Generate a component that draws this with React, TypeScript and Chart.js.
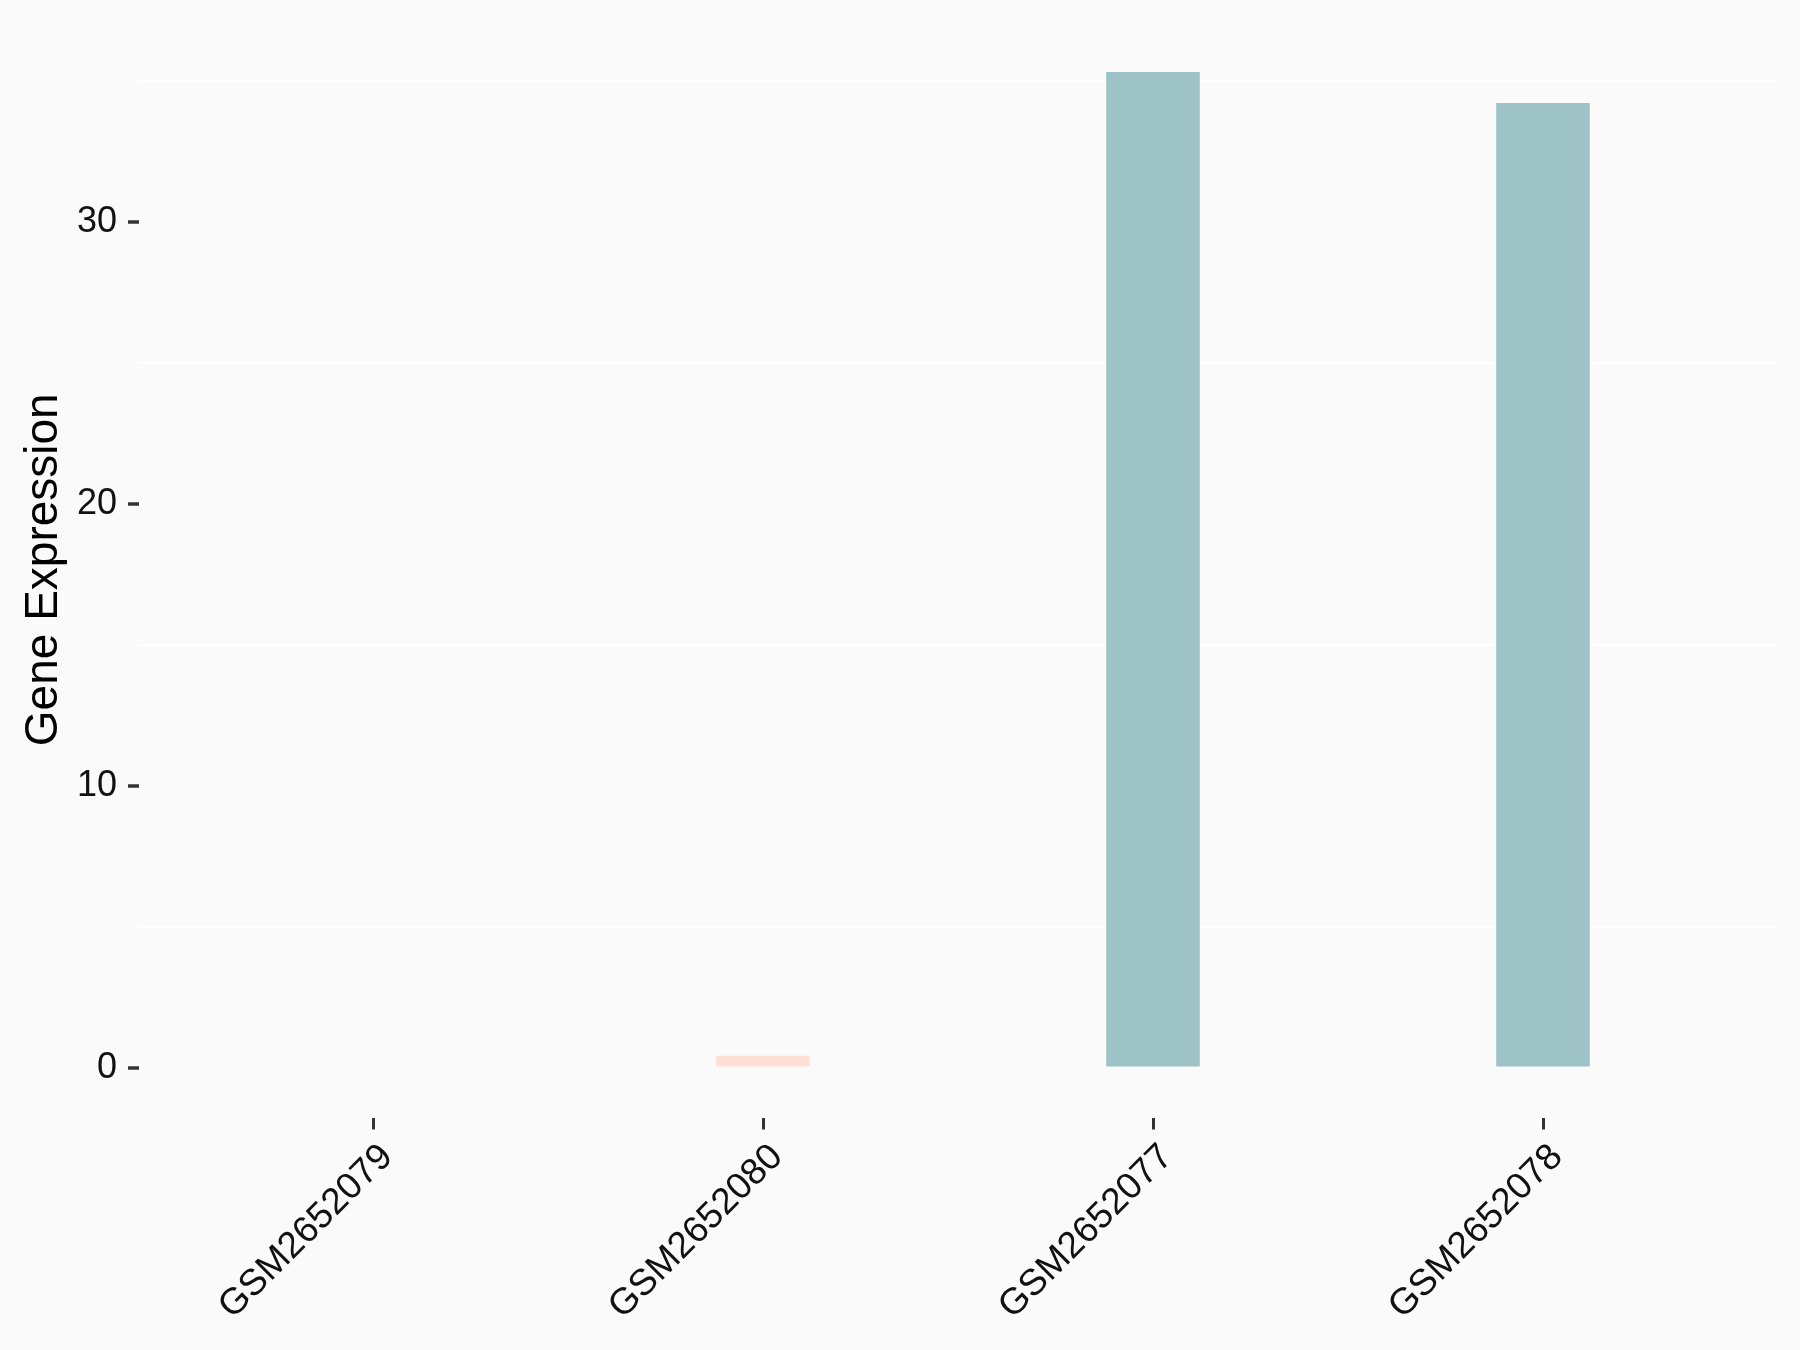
import React, { useEffect, useRef } from "react";
import { Chart, registerables } from "chart.js";

Chart.register(...registerables);

const categories = ["GSM2652079", "GSM2652080", "GSM2652077", "GSM2652078"];
const values = [0, 0.42, 35.32, 34.22];
const barColors = ["#FEE0D6", "#FEE0D6", "#9DC3C7", "#9DC3C7"];
const yTickValues = [0, 5, 10, 15, 20, 25, 30, 35];
const yAxisTitle = "Gene Expression";

const FONT = "'Liberation Sans', Arial, sans-serif";

export default function App() {
  const ref = useRef<HTMLCanvasElement | null>(null);

  useEffect(() => {
    document.body.style.margin = "0";
    document.body.style.background = "#FAFAFA";
    const bgPlugin = {
      id: "bg",
      beforeDraw(chart: any) {
        const { ctx, width, height } = chart;
        ctx.save();
        ctx.fillStyle = "#FAFAFA";
        ctx.fillRect(0, 0, width, height);
        ctx.restore();
      },
    };
    const chart = new Chart(ref.current as HTMLCanvasElement, {
      type: "bar",
      data: {
        datasets: [
          {
            data: values.map((v, i) => ({ x: i + 1, y: v })),
            backgroundColor: barColors,
            borderWidth: 0,
            barPercentage: 0.24,
            categoryPercentage: 1,
          },
        ],
      },
      options: {
        animation: false,
        responsive: false,
        maintainAspectRatio: false,
        layout: { padding: { top: 22, right: 23, left: 0, bottom: 0 } },
        plugins: { legend: { display: false }, tooltip: { enabled: false } },
        scales: {
          x: {
            type: "linear",
            min: 0.4,
            max: 4.6,
            offset: false,
            afterBuildTicks: (scale: any) => {
              scale.ticks = categories.map((_, i) => ({ value: i + 1 }));
            },
            afterFit: (scale: any) => {
              scale.height = 232.5;
              scale.paddingLeft = 0;
              scale.paddingRight = 0;
              scale.paddingTop = 0;
              scale.paddingBottom = 0;
            },
            border: { display: false },
            grid: {
              offset: false,
              drawOnChartArea: false,
              drawTicks: true,
              tickLength: 12,
              color: "#333333",
              tickColor: "#333333",
              lineWidth: 3,
              tickWidth: 3,
            },
            ticks: {
              autoSkip: false,
              minRotation: 45,
              maxRotation: 45,
              padding: 6,
              labelOffset: 14,
              color: "#111111",
              font: { family: FONT, size: 37 },
              callback: (v: any) => {
                const i = Math.round(Number(v)) - 1;
                return categories[i] ?? "";
              },
            },
          },
          y: {
            type: "linear",
            min: -1.77,
            max: 37.09,
            afterBuildTicks: (scale: any) => {
              scale.ticks = yTickValues.map((v) => ({ value: v }));
            },
            afterFit: (scale: any) => {
              scale.width = 139;
              scale.paddingTop = 0;
              scale.paddingBottom = 0;
              scale.paddingLeft = 0;
              scale.paddingRight = 0;
            },
            border: { display: false },
            grid: {
              drawOnChartArea: true,
              drawTicks: true,
              tickLength: 11,
              lineWidth: 2,
              color: (ctx: any) =>
                ctx.tick && ctx.tick.value % 10 === 5 ? "#FFFFFF" : "rgba(0,0,0,0)",
              tickColor: (ctx: any) =>
                ctx.tick && ctx.tick.value % 10 === 0 ? "#333333" : "rgba(0,0,0,0)",
              tickWidth: 3.5,
            },
            ticks: {
              padding: 11,
              color: "#111111",
              font: { family: FONT, size: 36, lineHeight: 1 },
              callback: (v: any) => (Number(v) % 10 === 0 ? String(v) : ""),
            },
            title: {
              display: true,
              text: yAxisTitle,
              color: "#000000",
              font: { family: FONT, size: 46 },
              padding: { top: 17, bottom: 0 },
            },
          },
        },
      },
      plugins: [bgPlugin],
    });
    return () => chart.destroy();
  }, []);

  return (
    <div style={{ width: 1800, height: 1350, background: "#FAFAFA" }}>
      <canvas ref={ref} width={1800} height={1350} style={{ display: "block" }} />
    </div>
  );
}
